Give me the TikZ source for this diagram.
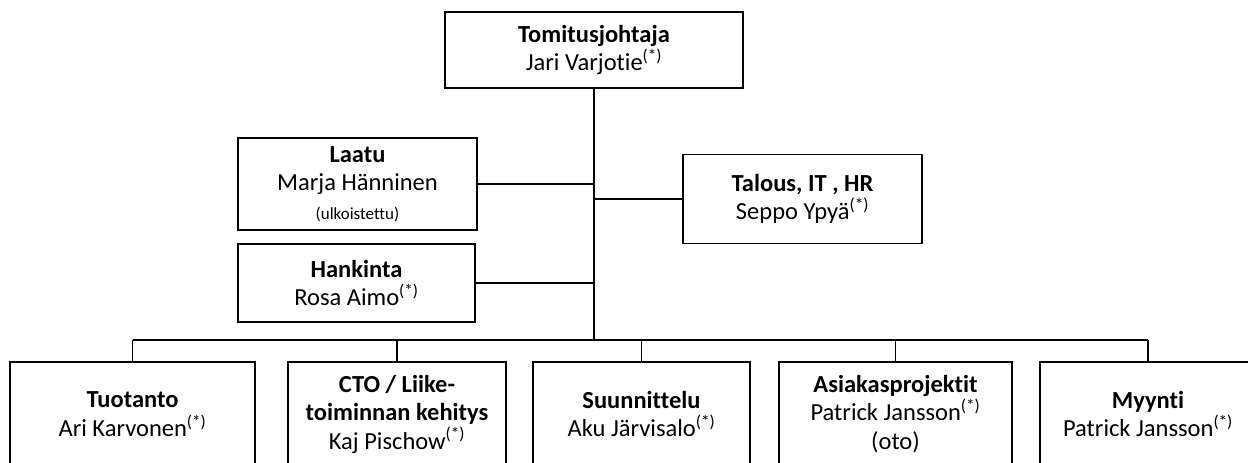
\documentclass[tikz,border=0pt]{standalone}
\usepackage{fontspec}
\setmainfont{Carlito}[Ligatures=NoCommon]
\newcommand\stern{\textsuperscript{(*)}}
\begin{document}
\begin{tikzpicture}[x=1pt,y=-1pt,
  box/.style={draw=black, line width=1.3pt, rectangle, align=center, inner sep=0pt,
    font=\fontsize{24.5}{28.5}\selectfont},
  trunk/.style={line width=2.5pt},
  side/.style={line width=1.6pt},
  drop/.style={line width=1.1pt}]
\useasboundingbox (0,0) rectangle (1248,463);
\clip (0,0) rectangle (1248,463);
\node[box, minimum width=298, minimum height=76] (ceo) at (594,50)
  {\textbf{Tomitusjohtaja}\\Jari Varjotie\stern};
\node[box, minimum width=239, minimum height=92] (laatu) at (357.5,184)
  {\textbf{Laatu}\\Marja Hänninen\\{\fontsize{17}{20}\selectfont (ulkoistettu)}};
\node[box, minimum width=237, minimum height=78] (hank) at (356.5,283)
  {\textbf{Hankinta}\\Rosa Aimo\stern};
\node[box, minimum width=239, minimum height=89] (tal) at (802.5,199)
  {\textbf{Talous, IT , HR}\\Seppo Ypyä\stern};
\node[box, minimum width=245, minimum height=104] (tuo) at (132.5,414)
  {\textbf{Tuotanto}\\Ari Karvonen\stern};
\node[box, minimum width=218, minimum height=104] (cto) at (397,414)
  {\textbf{CTO / Liike-}\\\textbf{toiminnan kehitys}\\Kaj Pischow\stern};
\node[box, minimum width=217, minimum height=104] (suu) at (641.5,414)
  {\textbf{Suunnittelu}\\Aku Järvisalo\stern};
\node[box, minimum width=233, minimum height=104] (asi) at (895.5,414)
  {\textbf{Asiakasprojektit}\\Patrick Jansson\stern\\(oto)};
\node[box, minimum width=216, minimum height=104] (myy) at (1148,414)
  {\textbf{Myynti}\\Patrick Jansson\stern};
\coordinate (bus) at (594,340);
\draw[trunk] (ceo.south) -- (bus);
\draw[side] (laatu.east) -- (laatu.east -| bus);
\draw[side] (hank.east) -- (hank.east -| bus);
\draw[side] (tal.west) -- (tal.west -| bus);
\draw[trunk] (tuo.north |- bus) -- (myy.north |- bus);
\draw[drop] (tuo.north) -- (tuo.north |- bus);
\draw[drop] (cto.north) -- (cto.north |- bus);
\draw[drop] (suu.north) -- (suu.north |- bus);
\draw[drop] (asi.north) -- (asi.north |- bus);
\draw[drop] (myy.north) -- (myy.north |- bus);
\end{tikzpicture}
\end{document}
